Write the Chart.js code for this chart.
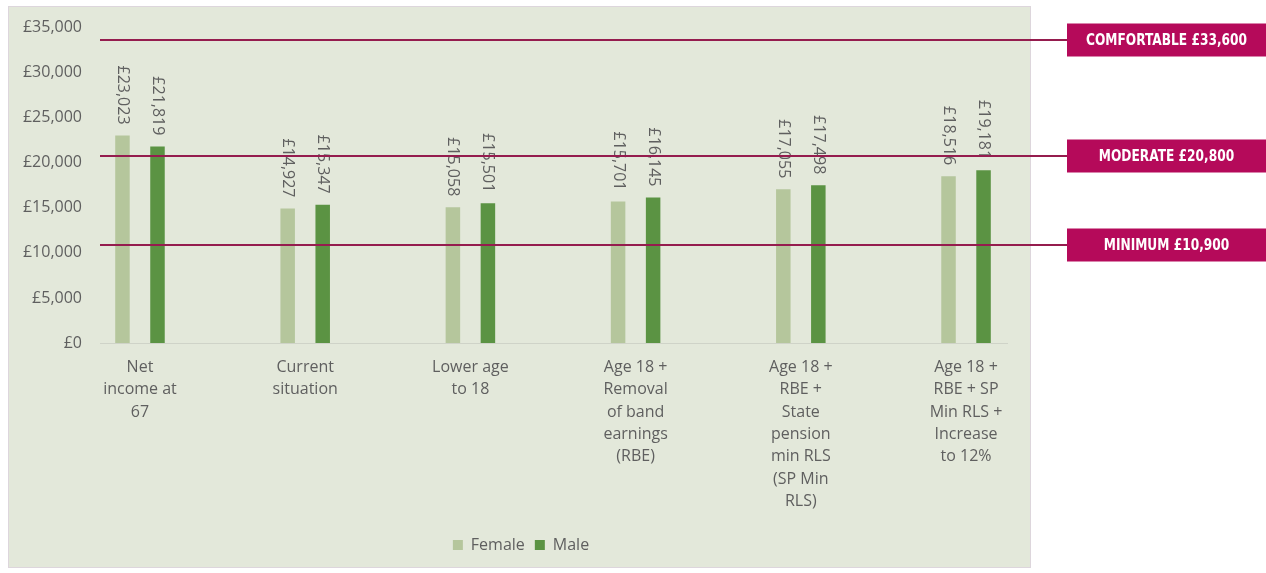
<!DOCTYPE html>
<html lang="en">
<head>
<meta charset="utf-8">
<title>Net retirement income by scenario</title>
<script src="https://cdn.jsdelivr.net/npm/chart.js@4.4.1/dist/chart.umd.min.js"></script>
<style>
  html, body { margin: 0; padding: 0; background: #ffffff; }
  body { width: 1266px; height: 573px; position: relative; overflow: hidden; }
  #panel {
    position: absolute; left: 8px; top: 6px; width: 1021px; height: 560px;
    background: #e3e8da; border: 1px solid #ddd6dc;
  }
  #wrap { position: absolute; left: 0; top: 0; width: 1266px; height: 573px; }
</style>
</head>
<body>
<div id="panel"></div>
<div id="wrap"><canvas id="chart" width="1266" height="573"></canvas></div>
<script>
// Scenario categories (multi-line axis labels)
const categories = [
  ["Net", "income at", "67"],
  ["Current", "situation"],
  ["Lower age", "to 18"],
  ["Age 18 +", "Removal", "of band", "earnings", "(RBE)"],
  ["Age 18 +", "RBE +", "State", "pension", "min RLS", "(SP Min", "RLS)"],
  ["Age 18 +", "RBE + SP", "Min RLS +", "Increase", "to 12%"]
];

// Annual net income (£)
const femaleIncome = [23023, 14927, 15058, 15701, 17055, 18516];
const maleIncome   = [21819, 15347, 15501, 16145, 17498, 19181];

// Retirement living standards
const standardNames  = ["COMFORTABLE", "MODERATE", "MINIMUM"];
const standardValues = [33600, 20800, 10900];

// Value axis ticks
const yTicks = [0, 5000, 10000, 15000, 20000, 25000, 30000, 35000];

const TEXT = "#5f5f5f";
const FONT = "'Open Sans', 'Lato', sans-serif";

function gbp(v) {
  return "£" + String(Math.round(v)).replace(/\B(?=(\d{3})+(?!\d))/g, ",");
}

const toPoints = arr => arr.map((v, i) => ({ x: i, y: v }));

// Rotated value labels above each bar
const barValueLabels = {
  id: "barValueLabels",
  afterDatasetsDraw(chart) {
    const ctx = chart.ctx;
    ctx.save();
    ctx.font = "16px " + FONT;
    ctx.fillStyle = TEXT;
    ctx.textAlign = "right";
    ctx.textBaseline = "middle";
    chart.data.datasets.forEach((ds, di) => {
      const meta = chart.getDatasetMeta(di);
      meta.data.forEach((bar, i) => {
        ctx.save();
        ctx.translate(bar.x, bar.y - 11);
        ctx.rotate(Math.PI / 2);
        ctx.fillText(gbp(ds.data[i].y), 0, 0);
        ctx.restore();
      });
    });
    ctx.restore();
  }
};

// Horizontal benchmark lines with tags on the right
const standardLines = {
  id: "standardLines",
  afterDraw(chart) {
    const ctx = chart.ctx;
    const y = chart.scales.y;
    const area = chart.chartArea;
    const tagW = 199, tagH = 33, textW = 161;
    const tagX = chart.width - tagW;
    ctx.save();
    standardValues.forEach((v, i) => {
      const py = Math.round(y.getPixelForValue(v));
      ctx.strokeStyle = "#951c4e";
      ctx.lineWidth = 2;
      ctx.beginPath();
      ctx.moveTo(area.left, py);
      ctx.lineTo(tagX, py);
      ctx.stroke();

      ctx.fillStyle = "#b50a5a";
      ctx.fillRect(tagX, py - tagH / 2, tagW, tagH);

      // Condensed caption: squeeze the widest tag text to a fixed width
      const text = standardNames[i] + " " + gbp(v);
      ctx.font = "bold 15px 'Liberation Sans Narrow', 'DejaVu Sans Condensed', 'Roboto', sans-serif";
      ctx.save();
      ctx.font = "bold 15px 'Liberation Sans Narrow', 'DejaVu Sans Condensed', 'Roboto', sans-serif";
      const ref = ctx.measureText(standardNames[0] + " " + gbp(standardValues[0])).width;
      const sx = Math.min(1, textW / ref);
      ctx.translate(tagX + tagW / 2, py + 1);
      ctx.scale(sx, 1);
      ctx.fillStyle = "#ffffff";
      ctx.textAlign = "center";
      ctx.textBaseline = "middle";
      ctx.fillText(text, 0, 0);
      ctx.restore();
    });
    ctx.restore();
  }
};

// Nudge the legend so it sits centred under the plot body
const legendShift = {
  id: "legendShift",
  afterLayout(chart) {
    const lg = chart.legend;
    if (lg) { lg.left += 17; lg.width -= 17; }
  }
};

new Chart(document.getElementById("chart"), {
  type: "bar",
  data: {
    datasets: [
      {
        label: "Female",
        data: toPoints(femaleIncome),
        backgroundColor: "#b5c69c",
        categoryPercentage: 0.424,
        barPercentage: 0.414
      },
      {
        label: "Male",
        data: toPoints(maleIncome),
        backgroundColor: "#5b9343",
        categoryPercentage: 0.424,
        barPercentage: 0.414
      }
    ]
  },
  options: {
    responsive: false,
    animation: false,
    layout: { padding: { left: 18, right: 259, top: 27, bottom: 10 } },
    plugins: {
      tooltip: { enabled: false },
      legend: {
        position: "bottom",
        labels: {
          boxWidth: 10,
          boxHeight: 10,
          padding: 10,
          color: TEXT,
          font: { family: FONT, size: 16 }
        }
      }
    },
    scales: {
      x: {
        type: "linear",
        offset: false,
        min: -0.242,
        max: 5.248,
        grid: { display: false, drawTicks: false },
        border: { display: true, color: "#cfd3c8", width: 1 },
        afterBuildTicks(scale) {
          scale.ticks = categories.map((_, i) => ({ value: i }));
        },
        afterFit(scale) { scale.height = 184; },
        ticks: {
          autoSkip: false,
          maxRotation: 0,
          minRotation: 0,
          padding: 13,
          color: TEXT,
          font: { family: FONT, size: 16, lineHeight: 1.4 },
          callback: v => categories[v] || ""
        }
      },
      y: {
        min: 0,
        max: 35000,
        grid: { display: false, drawTicks: false },
        border: { display: false },
        afterBuildTicks(scale) {
          scale.ticks = yTicks.map(v => ({ value: v }));
        },
        afterFit(scale) { scale.width = 82; },
        ticks: {
          padding: 18,
          color: TEXT,
          font: { family: FONT, size: 16 },
          callback: v => gbp(v)
        }
      }
    }
  },
  plugins: [barValueLabels, standardLines, legendShift]
});
</script>
</body>
</html>
